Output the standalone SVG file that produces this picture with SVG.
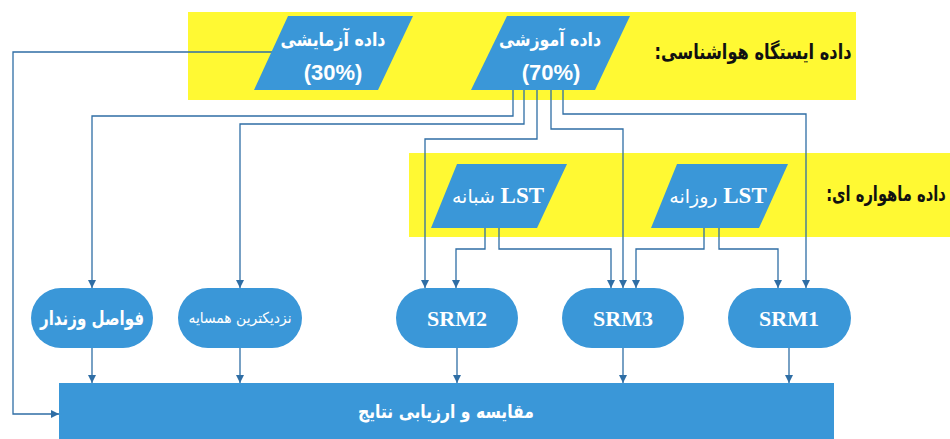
<svg xmlns="http://www.w3.org/2000/svg" width="950" height="439" viewBox="0 0 950 439">
<defs>
<style>
.band{fill:#FFF933}
.shape{fill:#3A97D8}
.fa{font-family:'DejaVu Sans',sans-serif}
.w{fill:#FFFFFF}
.k{fill:#111111}
.srm{font-family:'Liberation Serif','Times New Roman',serif;font-weight:bold;font-size:22px;fill:#FFFFFF}
.conn path{fill:none;stroke:#2F6EA5;stroke-width:1.3;marker-end:url(#ah)}
</style>
<marker id="ah" markerUnits="userSpaceOnUse" markerWidth="9" markerHeight="9" refX="8" refY="4.5" orient="auto">
<path d="M0,0.5 L8,4.5 L0,8.5 z" fill="#2F6EA5"/>
</marker>
</defs>
<rect width="950" height="439" fill="#FFFFFF"/>
<g id="band-station">
<rect class="band" x="188" y="12" width="668" height="88"/>
<text class="fa k" x="753" y="59" font-size="21" font-weight="bold" direction="rtl" text-anchor="middle" textLength="197" lengthAdjust="spacingAndGlyphs">داده ایستگاه هواشناسی:</text>
</g>
<g id="band-satellite">
<rect class="band" x="409" y="153" width="541" height="84"/>
<text class="fa k" transform="translate(886,201) scale(0.7,1)" x="0" y="0" font-size="21" font-weight="bold" direction="rtl" text-anchor="middle">داده ماهواره ای:</text>
</g>
<g class="conn" id="connectors">
<path d="M272,52 H13 V414 H59"/>
<path d="M513,90 V116 H92 V288"/>
<path d="M524,90 V124 H240 V288"/>
<path d="M537,90 V139 H425 V288"/>
<path d="M551,90 V129 H623 V288"/>
<path d="M563,90 V114 H806 V288"/>
<path d="M485,228 V249 H456 V288"/>
<path d="M499,228 V249 H611 V288"/>
<path d="M704,228 V249 H636 V288"/>
<path d="M719,228 V249 H778 V288"/>
<path d="M92,348 V383"/>
<path d="M240,348 V383"/>
<path d="M457,348 V383"/>
<path d="M623,348 V383"/>
<path d="M789,348 V383"/>
</g>
<g id="test-data">
<polygon class="shape" points="288,16 413,16 378,90 254,90"/>
<text class="fa w" x="333" y="46" font-size="19" font-weight="bold" text-anchor="middle" direction="rtl" textLength="105" lengthAdjust="spacingAndGlyphs">داده آزمایشی</text>
<text x="333" y="80" font-family="'Liberation Sans',Arial,sans-serif" font-size="22" font-weight="bold" fill="#FFFFFF" text-anchor="middle">(30%)</text>
</g>
<g id="train-data">
<polygon class="shape" points="507,16 630,16 595,90 471,90"/>
<text class="fa w" x="550" y="46" font-size="19" font-weight="bold" text-anchor="middle" direction="rtl" textLength="102" lengthAdjust="spacingAndGlyphs">داده آموزشی</text>
<text x="551" y="80" font-family="'Liberation Sans',Arial,sans-serif" font-size="22" font-weight="bold" fill="#FFFFFF" text-anchor="middle">(70%)</text>
</g>
<g id="lst-night">
<polygon class="shape" points="457,164 567,164 537,228 431,228"/>
<text x="498" y="203" font-family="'Liberation Serif','DejaVu Sans',serif" font-size="23" font-weight="bold" fill="#FFFFFF" text-anchor="middle" direction="rtl">LST <tspan font-family="'DejaVu Sans',sans-serif" font-size="19" font-weight="normal">شبانه</tspan></text>
</g>
<g id="lst-day">
<polygon class="shape" points="677,164 788,164 759,228 651,228"/>
<text x="718" y="203" font-family="'Liberation Serif','DejaVu Sans',serif" font-size="23" font-weight="bold" fill="#FFFFFF" text-anchor="middle" direction="rtl">LST <tspan font-family="'DejaVu Sans',sans-serif" font-size="19" font-weight="normal">روزانه</tspan></text>
</g>
<g id="idw">
<rect class="shape" x="31" y="288" width="122" height="60" rx="30"/>
<text class="fa w" x="92" y="325" font-size="20" font-weight="bold" text-anchor="middle" direction="rtl" textLength="104" lengthAdjust="spacingAndGlyphs">فواصل وزندار</text>
</g>
<g id="nearest">
<rect class="shape" x="178" y="288" width="124" height="60" rx="30"/>
<text class="fa w" x="240" y="323" font-size="15" text-anchor="middle" direction="rtl" textLength="103" lengthAdjust="spacingAndGlyphs">نزدیکترین همسایه</text>
</g>
<g id="srm2">
<rect class="shape" x="396" y="288" width="122" height="60" rx="30"/>
<text class="srm" x="457" y="326" text-anchor="middle">SRM2</text>
</g>
<g id="srm3">
<rect class="shape" x="562" y="288" width="122" height="60" rx="30"/>
<text class="srm" x="623" y="326" text-anchor="middle">SRM3</text>
</g>
<g id="srm1">
<rect class="shape" x="728" y="288" width="123" height="60" rx="30"/>
<text class="srm" x="789" y="326" text-anchor="middle">SRM1</text>
</g>
<g id="evaluation">
<rect class="shape" x="59" y="383" width="775" height="56"/>
<text class="fa w" x="446" y="418" font-size="19" font-weight="bold" text-anchor="middle" direction="rtl" textLength="176" lengthAdjust="spacingAndGlyphs">مقایسه و ارزیابی نتایج</text>
</g>
</svg>
